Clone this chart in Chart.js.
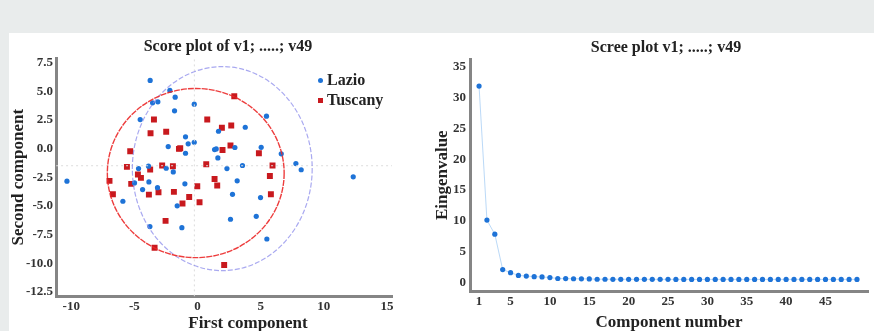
<html>
<head>
  <title>Score plot and scree plot</title>
  <script src="https://cdn.jsdelivr.net/npm/chart.js"></script>
  <style>
    body { margin: 0; background: #e9ecec; width: 874px; height: 331px; overflow: hidden; position: relative; }
    #panel { position: absolute; left: 9px; top: 33px; width: 865px; height: 298px; background: #fff; }
    .box { position: absolute; top: 33px; height: 298px; }
    #scoreBox { left: 9px; width: 421px; }
    #screeBox { left: 430px; width: 444px; }
    .txt { position: absolute; font-family: "Liberation Serif", serif; font-weight: bold; color: #222; white-space: nowrap; }
    .centered { transform: translateX(-50%); }
    .legend { font-size: 16px; }
    .legend div { height: 20px; line-height: 20px; }
    .mark { display: inline-block; width: 5px; height: 5px; margin-right: 4px; vertical-align: middle; position: relative; top: -1px; }
  </style>
</head>
<body>
  <div id="panel"></div>
  <div class="box" id="scoreBox"><canvas id="scoreChart"></canvas></div>
  <div class="box" id="screeBox"><canvas id="screeChart"></canvas></div>
  <div class="txt centered" style="left:228px; top:38px; font-size:16px; line-height:16px;">Score plot of v1; .....; v49</div>
  <div class="txt centered" style="left:666px; top:39px; font-size:16px; line-height:16px;">Scree plot v1; .....; v49</div>
  <div class="txt centered" style="left:248px; top:314px; font-size:17px; line-height:17px;">First component</div>
  <div class="txt legend" style="left:318px; top:70px;">
    <div><span class="mark" style="background:#1e73d7; border-radius:50%;"></span>Lazio</div>
    <div><span class="mark" style="background:#c8191e;"></span>Tuscany</div>
  </div>

  <script>
    // Score plot: first / second component
    const lazioX = [-3.75, -2.19, -1.77, -3.56, -3.14, -0.26, -1.82, -4.54, -0.95, -0.26, -0.74, -2.32, -0.95, 1.35, -3.88, -2.48, -4.67,
      5.46, 1.66, 3.78, 1.48, 2.96, 5.04, 1.61, 6.63, 7.79, 3.56, 2.33, 8.21, -1.92, -4.99, -3.85, -1.0, -4.35, -3.17, -1.61, -5.91,
      -3.77, -1.24, 3.14, 2.77, 4.99, 2.61, 4.65, 5.49, -10.34, 12.33];
    const lazioY = [5.94, 5.07, 4.48, 3.99, 4.08, 3.87, 3.29, 2.53, 1.02, 0.55, 0.41, 0.17, -0.41, -0.09, -1.54, -1.72, -1.75,
      2.82, 1.51, 1.86, -0.03, 0.09, 0.11, -0.82, -0.46, -1.31, -1.48, -1.75, -1.85, -2.04, -3.0, -2.91, -3.08, -3.58, -3.41, -5.0, -4.6,
      -6.81, -6.9, -2.82, -3.99, -4.28, -6.17, -5.91, -7.89, -2.85, -2.47];
    const tuscanyX = [-3.45, 0.77, -3.72, -2.48, -1.47, -1.37, -5.33, 0.69, -5.59, -2.8, -1.95, 2.91, 1.93, 2.67, 1.98, 2.61, 4.86,
      5.94, -3.75, -4.72, -4.48, 1.35, -6.97, -5.25, -0.02, -3.09, -3.85, -1.87, -6.7, -0.66, 0.16, -1.19, -2.53, -3.4, 1.56, 5.73,
      5.81, 2.11];
    const tuscanyY = [2.53, 2.53, 1.34, 1.46, -0.03, 0.03, -0.23, -1.37, -1.6, -1.48, -1.54, 4.57, 1.81, 2.01, -0.12, 0.26, -0.41,
      -1.48, -1.83, -2.27, -2.56, -2.65, -2.82, -3.08, -3.29, -3.81, -4.02, -3.78, -3.99, -4.22, -4.69, -4.8, -6.31, -8.65, -3.23, -2.39,
      -3.99, -10.16];

    // confidence ellipses: centre x, centre y, half width, half height
    const lazioEllipse = [1.96, -1.75, 7.12, 8.9];
    const tuscanyEllipse = [-0.14, -2.14, 7.0, 7.38];
    // dotted reference lines
    const refX = -0.25;
    const refY = -1.5;

    const scoreXTicks = [-10, -5, 0, 5, 10, 15];
    const scoreYTicks = [7.5, 5.0, 2.5, 0.0, -2.5, -5.0, -7.5, -10.0, -12.5];

    // Scree plot
    const componentNumbers = [];
    for (let i = 1; i <= 49; i++) componentNumbers.push(i);
    const eigenvalues = [31.9, 10.1, 7.8, 2.05, 1.55, 1.1, 1.0, 0.9, 0.85, 0.75, 0.6, 0.58, 0.56, 0.55, 0.53, 0.48, 0.48, 0.47,
      0.47, 0.47, 0.46, 0.46, 0.46, 0.46, 0.46, 0.45, 0.45, 0.45, 0.45, 0.45, 0.45, 0.45, 0.45, 0.45, 0.45, 0.45, 0.45, 0.45, 0.45,
      0.45, 0.45, 0.45, 0.45, 0.45, 0.45, 0.45, 0.45, 0.45, 0.45];
    const screeXTicks = [1, 5, 10, 15, 20, 25, 30, 35, 40, 45];
    const screeYTicks = [0, 5, 10, 15, 20, 25, 30, 35];

    const serif = '"Liberation Serif", serif';
    const textColor = '#222';
    const axisColor = '#858585';

    function toPoints(xs, ys) {
      return xs.map((x, i) => ({ x: x, y: ys[i] }));
    }

    // draws the ellipses through the chart scales
    const ellipsePlugin = {
      id: 'ellipses',
      afterDatasetsDraw(chart) {
        const xs = chart.scales.x, ys = chart.scales.y;
        const ctx = chart.ctx;
        const list = [
          { e: lazioEllipse, color: 'rgba(140,140,235,0.75)', dash: [5, 2], width: 1.2 },
          { e: tuscanyEllipse, color: 'rgba(235,40,40,0.9)', dash: [6, 1], width: 1.4 }
        ];
        ctx.save();
        ctx.beginPath();
        ctx.rect(chart.chartArea.left, chart.chartArea.top, chart.chartArea.width, chart.chartArea.height);
        ctx.clip();
        list.forEach(item => {
          const cx = xs.getPixelForValue(item.e[0]);
          const cy = ys.getPixelForValue(item.e[1]);
          const rx = Math.abs(xs.getPixelForValue(item.e[0] + item.e[2]) - cx);
          const ry = Math.abs(ys.getPixelForValue(item.e[1] + item.e[3]) - cy);
          ctx.beginPath();
          ctx.setLineDash(item.dash);
          ctx.strokeStyle = item.color;
          ctx.lineWidth = item.width;
          ctx.ellipse(cx, cy, rx, ry, 0, 0, Math.PI * 2);
          ctx.stroke();
        });
        ctx.restore();
      }
    };

    function axisOpts(ticks, min, max, title, fmt, tickPad, titlePad) {
      const opts = {
        type: 'linear',
        min: min,
        max: max,
        afterBuildTicks: axis => { axis.ticks = ticks.map(v => ({ value: v })); },
        grid: { display: false, drawTicks: false },
        border: { display: true, color: axisColor, width: 3 },
        ticks: {
          autoSkip: false,
          maxRotation: 0,
          padding: tickPad,
          color: '#333',
          font: { family: serif, size: 13, weight: 'bold' },
          callback: fmt
        },
        title: { display: false }
      };
      if (title) {
        opts.title = {
          display: true,
          text: title,
          color: textColor,
          padding: titlePad,
          font: { family: serif, size: 17, weight: 'bold', lineHeight: 1 }
        };
      }
      return opts;
    }

    new Chart(document.getElementById('scoreChart'), {
      type: 'scatter',
      data: {
        datasets: [
          {
            label: 'refX', type: 'line', data: [{ x: refX, y: -12.9 }, { x: refX, y: 7.9 }],
            borderColor: '#dcdcdc', borderWidth: 1, borderDash: [2, 3], pointRadius: 0
          },
          {
            label: 'refY', type: 'line', data: [{ x: -11.2, y: refY }, { x: 15.4, y: refY }],
            borderColor: '#dcdcdc', borderWidth: 1, borderDash: [2, 3], pointRadius: 0
          },
          {
            label: 'Lazio', data: toPoints(lazioX, lazioY),
            pointStyle: 'circle', pointRadius: 2.6, backgroundColor: '#1e73d7', borderWidth: 0
          },
          {
            label: 'Tuscany', data: toPoints(tuscanyX, tuscanyY),
            pointStyle: 'rect', pointRadius: 4.2, backgroundColor: '#c8191e', borderWidth: 0
          }
        ]
      },
      options: {
        responsive: true,
        maintainAspectRatio: false,
        animation: false,
        layout: { padding: { top: 25, right: 38, bottom: 15, left: 0 } },
        plugins: {
          legend: { display: false },
          tooltip: { enabled: false },
          title: { display: false }
        },
        scales: {
          x: axisOpts(scoreXTicks, -11.2, 15.4, null, v => v, 2),
          y: axisOpts(scoreYTicks, -12.9, 7.9, 'Second component', v => v.toFixed(1), 3, { top: 1, bottom: -4 })
        }
      },
      plugins: [ellipsePlugin]
    });

    new Chart(document.getElementById('screeChart'), {
      type: 'line',
      data: {
        datasets: [{
          label: 'Eigenvalue',
          data: toPoints(componentNumbers, eigenvalues),
          borderColor: 'rgba(120,180,240,0.5)',
          borderWidth: 1,
          pointRadius: 2.6,
          pointBackgroundColor: '#1e73d7',
          pointBorderWidth: 0,
          fill: false
        }]
      },
      options: {
        responsive: true,
        maintainAspectRatio: false,
        animation: false,
        layout: { padding: { top: 26, right: 6, bottom: 0, left: 4 } },
        plugins: {
          legend: { display: false },
          tooltip: { enabled: false },
          title: { display: false }
        },
        scales: {
          x: axisOpts(screeXTicks, -0.15, 50.4, 'Component number', v => v, 2, { top: 3, bottom: 0 }),
          y: axisOpts(screeYTicks, -1.5, 36.3, 'Eingenvalue', v => v, 4, { top: 0, bottom: -2 })
        }
      }
    });
  </script>
</body>
</html>
